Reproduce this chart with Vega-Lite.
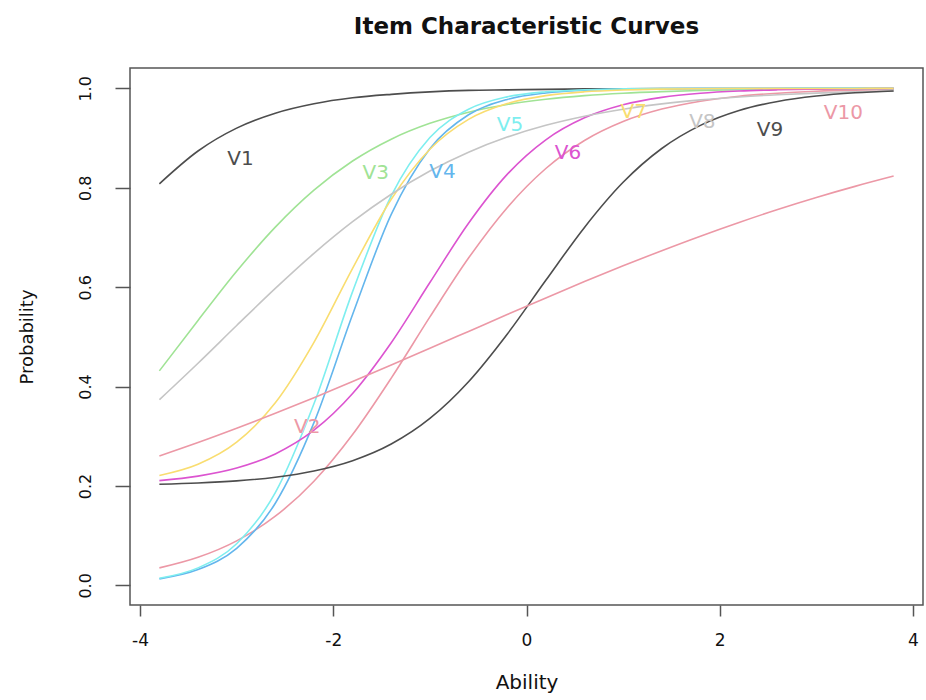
{
  "$schema": "https://vega.github.io/schema/vega-lite/v6.json",
  "width": 793,
  "height": 537,
  "autosize": {"type": "none"},
  "padding": {"left": 130, "top": 68, "right": 3, "bottom": 95},
  "background": "white",
  "title": {
    "text": "Item Characteristic Curves",
    "anchor": "middle",
    "frame": "group",
    "font": "DejaVu Sans",
    "fontSize": 23,
    "fontWeight": "bold",
    "color": "#111",
    "baseline": "alphabetic",
    "offset": 11
  },
  "config": {
    "font": "DejaVu Sans",
    "view": {"stroke": "#555", "strokeWidth": 1.5},
    "axis": {"grid": false, "domain": false, "tickColor": "#555", "tickWidth": 1.5, "labelColor": "#111", "titleColor": "#111", "titleFontWeight": "normal"}
  },
  "datasets": {
    "curves": [
      {"item":"V1","theta":-3.8,"p":0.808},{"item":"V1","theta":-3.4,"p":0.874},{"item":"V1","theta":-3.0,"p":0.920},{"item":"V1","theta":-2.6,"p":0.950},{"item":"V1","theta":-2.2,"p":0.969},{"item":"V1","theta":-1.8,"p":0.981},{"item":"V1","theta":-1.4,"p":0.988},{"item":"V1","theta":-1.0,"p":0.993},{"item":"V1","theta":-0.6,"p":0.996},{"item":"V1","theta":-0.2,"p":0.997},{"item":"V1","theta":0.2,"p":0.998},{"item":"V1","theta":0.6,"p":0.999},{"item":"V1","theta":1.0,"p":0.9994},{"item":"V1","theta":1.4,"p":0.9996},{"item":"V1","theta":1.8,"p":0.9998},{"item":"V1","theta":2.2,"p":0.9999},{"item":"V1","theta":2.6,"p":0.9999},{"item":"V1","theta":3.0,"p":0.9999},{"item":"V1","theta":3.4,"p":0.9999},{"item":"V1","theta":3.8,"p":0.9999},
      {"item":"V2","theta":-3.8,"p":0.0352},{"item":"V2","theta":-3.4,"p":0.0565},{"item":"V2","theta":-3.0,"p":0.0896},{"item":"V2","theta":-2.6,"p":0.1391},{"item":"V2","theta":-2.2,"p":0.2096},{"item":"V2","theta":-1.8,"p":0.3034},{"item":"V2","theta":-1.4,"p":0.4170},{"item":"V2","theta":-1.0,"p":0.5402},{"item":"V2","theta":-0.6,"p":0.6586},{"item":"V2","theta":-0.2,"p":0.7600},{"item":"V2","theta":0.2,"p":0.8388},{"item":"V2","theta":0.6,"p":0.8952},{"item":"V2","theta":1.0,"p":0.9334},{"item":"V2","theta":1.4,"p":0.9584},{"item":"V2","theta":1.8,"p":0.9742},{"item":"V2","theta":2.2,"p":0.9842},{"item":"V2","theta":2.6,"p":0.9903},{"item":"V2","theta":3.0,"p":0.9941},{"item":"V2","theta":3.4,"p":0.9964},{"item":"V2","theta":3.8,"p":0.9978},
      {"item":"V3","theta":-3.8,"p":0.4316},{"item":"V3","theta":-3.4,"p":0.5331},{"item":"V3","theta":-3.0,"p":0.6320},{"item":"V3","theta":-2.6,"p":0.7208},{"item":"V3","theta":-2.2,"p":0.7952},{"item":"V3","theta":-1.8,"p":0.8538},{"item":"V3","theta":-1.4,"p":0.8978},{"item":"V3","theta":-1.0,"p":0.9296},{"item":"V3","theta":-0.6,"p":0.9521},{"item":"V3","theta":-0.2,"p":0.9676},{"item":"V3","theta":0.2,"p":0.9782},{"item":"V3","theta":0.6,"p":0.9854},{"item":"V3","theta":1.0,"p":0.9903},{"item":"V3","theta":1.4,"p":0.9935},{"item":"V3","theta":1.8,"p":0.9957},{"item":"V3","theta":2.2,"p":0.9971},{"item":"V3","theta":2.6,"p":0.9981},{"item":"V3","theta":3.0,"p":0.9987},{"item":"V3","theta":3.4,"p":0.9992},{"item":"V3","theta":3.8,"p":0.9994},
      {"item":"V4","theta":-3.8,"p":0.0131},{"item":"V4","theta":-3.4,"p":0.0317},{"item":"V4","theta":-3.0,"p":0.0745},{"item":"V4","theta":-2.6,"p":0.1652},{"item":"V4","theta":-2.2,"p":0.3274},{"item":"V4","theta":-1.8,"p":0.5449},{"item":"V4","theta":-1.4,"p":0.7465},{"item":"V4","theta":-1.0,"p":0.8787},{"item":"V4","theta":-0.6,"p":0.9469},{"item":"V4","theta":-0.2,"p":0.9777},{"item":"V4","theta":0.2,"p":0.9908},{"item":"V4","theta":0.6,"p":0.9962},{"item":"V4","theta":1.0,"p":0.9985},{"item":"V4","theta":1.4,"p":0.9994},{"item":"V4","theta":1.8,"p":0.9998},{"item":"V4","theta":2.2,"p":0.9999},{"item":"V4","theta":2.6,"p":0.9999},{"item":"V4","theta":3.0,"p":1.0},{"item":"V4","theta":3.4,"p":1.0},{"item":"V4","theta":3.8,"p":1.0},
      {"item":"V5","theta":-3.8,"p":0.0143},{"item":"V5","theta":-3.4,"p":0.0352},{"item":"V5","theta":-3.0,"p":0.0838},{"item":"V5","theta":-2.6,"p":0.1866},{"item":"V5","theta":-2.2,"p":0.3654},{"item":"V5","theta":-1.8,"p":0.5910},{"item":"V5","theta":-1.4,"p":0.7838},{"item":"V5","theta":-1.0,"p":0.9010},{"item":"V5","theta":-0.6,"p":0.9580},{"item":"V5","theta":-0.2,"p":0.9829},{"item":"V5","theta":0.2,"p":0.9931},{"item":"V5","theta":0.6,"p":0.9972},{"item":"V5","theta":1.0,"p":0.9989},{"item":"V5","theta":1.4,"p":0.9996},{"item":"V5","theta":1.8,"p":0.9998},{"item":"V5","theta":2.2,"p":0.9999},{"item":"V5","theta":2.6,"p":0.9999},{"item":"V5","theta":3.0,"p":1.0},{"item":"V5","theta":3.4,"p":1.0},{"item":"V5","theta":3.8,"p":1.0},
      {"item":"V6","theta":-3.8,"p":0.2108},{"item":"V6","theta":-3.4,"p":0.2198},{"item":"V6","theta":-3.0,"p":0.2360},{"item":"V6","theta":-2.6,"p":0.2645},{"item":"V6","theta":-2.2,"p":0.3122},{"item":"V6","theta":-1.8,"p":0.3861},{"item":"V6","theta":-1.4,"p":0.4883},{"item":"V6","theta":-1.0,"p":0.6093},{"item":"V6","theta":-0.6,"p":0.7286},{"item":"V6","theta":-0.2,"p":0.8269},{"item":"V6","theta":0.2,"p":0.8965},{"item":"V6","theta":0.6,"p":0.9407},{"item":"V6","theta":1.0,"p":0.9670},{"item":"V6","theta":1.4,"p":0.9819},{"item":"V6","theta":1.8,"p":0.9902},{"item":"V6","theta":2.2,"p":0.9947},{"item":"V6","theta":2.6,"p":0.9971},{"item":"V6","theta":3.0,"p":0.9985},{"item":"V6","theta":3.4,"p":0.9992},{"item":"V6","theta":3.8,"p":0.9996},
      {"item":"V7","theta":-3.8,"p":0.2211},{"item":"V7","theta":-3.4,"p":0.2437},{"item":"V7","theta":-3.0,"p":0.2881},{"item":"V7","theta":-2.6,"p":0.3673},{"item":"V7","theta":-2.2,"p":0.4890},{"item":"V7","theta":-1.8,"p":0.6379},{"item":"V7","theta":-1.4,"p":0.7769},{"item":"V7","theta":-1.0,"p":0.8775},{"item":"V7","theta":-0.6,"p":0.9376},{"item":"V7","theta":-0.2,"p":0.9695},{"item":"V7","theta":0.2,"p":0.9854},{"item":"V7","theta":0.6,"p":0.9931},{"item":"V7","theta":1.0,"p":0.9968},{"item":"V7","theta":1.4,"p":0.9985},{"item":"V7","theta":1.8,"p":0.9993},{"item":"V7","theta":2.2,"p":0.9997},{"item":"V7","theta":2.6,"p":0.9998},{"item":"V7","theta":3.0,"p":0.9999},{"item":"V7","theta":3.4,"p":0.9999},{"item":"V7","theta":3.8,"p":1.0},
      {"item":"V8","theta":-3.8,"p":0.3736},{"item":"V8","theta":-3.4,"p":0.4470},{"item":"V8","theta":-3.0,"p":0.5228},{"item":"V8","theta":-2.6,"p":0.5975},{"item":"V8","theta":-2.2,"p":0.6680},{"item":"V8","theta":-1.8,"p":0.7317},{"item":"V8","theta":-1.4,"p":0.7870},{"item":"V8","theta":-1.0,"p":0.8336},{"item":"V8","theta":-0.6,"p":0.8716},{"item":"V8","theta":-0.2,"p":0.9020},{"item":"V8","theta":0.2,"p":0.9258},{"item":"V8","theta":0.6,"p":0.9441},{"item":"V8","theta":1.0,"p":0.9581},{"item":"V8","theta":1.4,"p":0.9688},{"item":"V8","theta":1.8,"p":0.9768},{"item":"V8","theta":2.2,"p":0.9828},{"item":"V8","theta":2.6,"p":0.9872},{"item":"V8","theta":3.0,"p":0.9905},{"item":"V8","theta":3.4,"p":0.9930},{"item":"V8","theta":3.8,"p":0.9948},
      {"item":"V9","theta":-3.8,"p":0.2034},{"item":"V9","theta":-3.4,"p":0.2059},{"item":"V9","theta":-3.0,"p":0.2102},{"item":"V9","theta":-2.6,"p":0.2176},{"item":"V9","theta":-2.2,"p":0.2301},{"item":"V9","theta":-1.8,"p":0.2508},{"item":"V9","theta":-1.4,"p":0.2843},{"item":"V9","theta":-1.0,"p":0.3358},{"item":"V9","theta":-0.6,"p":0.4097},{"item":"V9","theta":-0.2,"p":0.5053},{"item":"V9","theta":0.2,"p":0.6138},{"item":"V9","theta":0.6,"p":0.7203},{"item":"V9","theta":1.0,"p":0.8110},{"item":"V9","theta":1.4,"p":0.8790},{"item":"V9","theta":1.8,"p":0.9255},{"item":"V9","theta":2.2,"p":0.9554},{"item":"V9","theta":2.6,"p":0.9737},{"item":"V9","theta":3.0,"p":0.9846},{"item":"V9","theta":3.4,"p":0.9911},{"item":"V9","theta":3.8,"p":0.9948},
      {"item":"V10","theta":-3.8,"p":0.2604},{"item":"V10","theta":-3.4,"p":0.2874},{"item":"V10","theta":-3.0,"p":0.3161},{"item":"V10","theta":-2.6,"p":0.3462},{"item":"V10","theta":-2.2,"p":0.3776},{"item":"V10","theta":-1.8,"p":0.4100},{"item":"V10","theta":-1.4,"p":0.4433},{"item":"V10","theta":-1.0,"p":0.4771},{"item":"V10","theta":-0.6,"p":0.5110},{"item":"V10","theta":-0.2,"p":0.5449},{"item":"V10","theta":0.2,"p":0.5784},{"item":"V10","theta":0.6,"p":0.6112},{"item":"V10","theta":1.0,"p":0.6430},{"item":"V10","theta":1.4,"p":0.6735},{"item":"V10","theta":1.8,"p":0.7027},{"item":"V10","theta":2.2,"p":0.7303},{"item":"V10","theta":2.6,"p":0.7563},{"item":"V10","theta":3.0,"p":0.7805},{"item":"V10","theta":3.4,"p":0.8028},{"item":"V10","theta":3.8,"p":0.8235}
    ],
    "labels": [
      {"item":"V1","theta":-2.96,"p":0.858},
      {"item":"V2","theta":-2.27,"p":0.319},
      {"item":"V3","theta":-1.56,"p":0.830},
      {"item":"V4","theta":-0.87,"p":0.832},
      {"item":"V5","theta":-0.17,"p":0.927},
      {"item":"V6","theta":0.43,"p":0.870},
      {"item":"V7","theta":1.11,"p":0.953},
      {"item":"V8","theta":1.82,"p":0.933},
      {"item":"V9","theta":2.52,"p":0.917},
      {"item":"V10","theta":3.28,"p":0.951}
    ]
  },
  "encoding": {
    "x": {
      "field": "theta", "type": "quantitative",
      "scale": {"domain": [-4.104, 4.104], "nice": false, "zero": false},
      "axis": {
        "title": "Ability", "values": [-4, -2, 0, 2, 4], "labelExpr": "datum.value + ''",
        "tickSize": 11, "labelFontSize": 17, "labelBaseline": "alphabetic", "labelPadding": 29,
        "titleFontSize": 20, "titleBaseline": "alphabetic", "titleY": 83
      }
    },
    "y": {
      "field": "p", "type": "quantitative",
      "scale": {"domain": [-0.0395, 1.041], "nice": false, "zero": false},
      "axis": {
        "title": "Probability", "values": [0, 0.2, 0.4, 0.6, 0.8, 1.0], "format": ".1f",
        "tickSize": 15, "labelFontSize": 16, "labelAngle": -90, "labelAlign": "center", "labelBaseline": "alphabetic", "labelPadding": 25,
        "titleFontSize": 18, "titleAngle": -90, "titleAlign": "center", "titleBaseline": "alphabetic", "titleX": -98, "titleY": 268.5
      }
    },
    "color": {
      "field": "item", "type": "nominal", "legend": null,
      "scale": {
        "domain": ["V1","V2","V3","V4","V5","V6","V7","V8","V9","V10"],
        "range": ["#4d4d4d","#EC98A6","#A0E395","#64B6ED","#7EEEEF","#DC54D0","#F9DD70","#C5C5C5","#4d4d4d","#EC98A6"]
      }
    }
  },
  "layer": [
    {
      "data": {"name": "curves"},
      "mark": {"type": "line", "interpolate": "monotone", "strokeWidth": 1.6},
      "encoding": {"detail": {"field": "item"}}
    },
    {
      "data": {"name": "labels"},
      "mark": {"type": "text", "fontSize": 20, "font": "DejaVu Sans", "align": "center", "baseline": "middle"},
      "encoding": {"text": {"field": "item"}}
    }
  ]
}
